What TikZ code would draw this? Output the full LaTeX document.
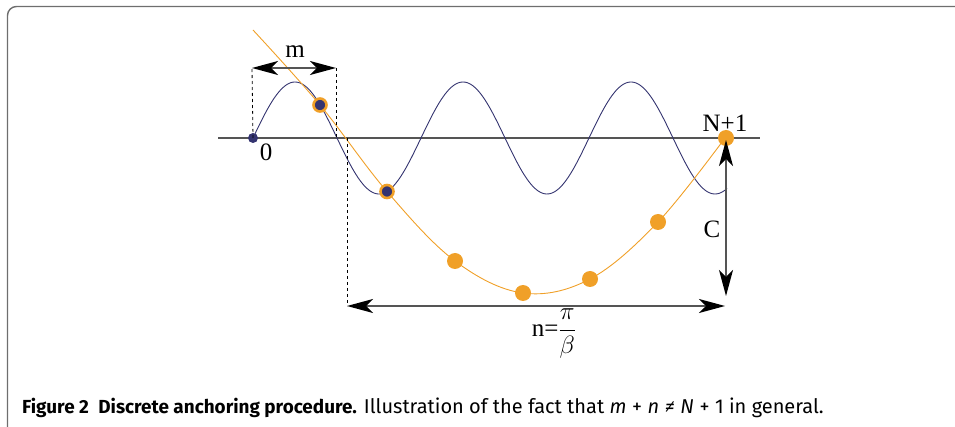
\RequirePackage{fix-cm}
\documentclass[tikz,border=0pt]{standalone}
\usepackage{amsmath}
\usepackage{fontspec}
\setmainfont{Liberation Serif}
\newfontfamily\capfont{Fira Sans}
\usetikzlibrary{arrows.meta}
\definecolor{wavecol}{RGB}{52,52,112}
\definecolor{orng}{RGB}{240,160,40}
\definecolor{axiscol}{RGB}{85,85,85}
\definecolor{framecol}{RGB}{110,110,110}

\tikzset{
  wave/.style={draw=wavecol, line width=0.9pt},
  fitcurve/.style={draw=orng, line width=0.9pt},
  odot/.style={circle, fill=orng, inner sep=0pt, minimum size=16pt},
  ringdot/.style={circle, fill=wavecol, draw=orng, line width=2.6pt, inner sep=0pt, minimum size=13pt},
  zerodot/.style={circle, fill=wavecol, inner sep=0pt, minimum size=10pt},
  dimarrow/.style={draw=axiscol, line width=1.4pt,
    {Stealth[length=26pt,width=14pt,inset=7pt,color=black]}-{Stealth[length=26pt,width=14pt,inset=7pt,color=black]}},
  guide/.style={dashed, line width=0.8pt},
  lbl/.style={inner sep=0pt, font=\fontsize{25}{25}\selectfont}
}
\newcommand{\mgap}{\hspace{0.28em}}

\begin{document}
\begin{tikzpicture}[x=1pt,y=-1pt]
  \useasboundingbox (0,0) rectangle (955,427);

  % frame
  \draw[framecol, line width=1.4pt, rounded corners=9pt] (7.5,427) -- (7.5,6.5) -- (955,6.5);

  % axis
  \coordinate (axl) at (218,138);
  \coordinate (axr) at (760,138);
  \draw[axiscol, line width=1.6pt] (axl) -- (axr);

  % oscillation
  \draw[wave] plot[domain=253:727, samples=240, smooth] (\x, {138-56*sin((\x-253)/168*360)});

  % fitted curve through the samples
  \draw[fitcurve] plot[smooth, tension=0.6] coordinates
    {(253,30) (320,105) (387,191.5) (455,261) (523,293) (590,279) (658,222) (725,138)};

  % helper points
  \coordinate (ml) at (252,68);
  \coordinate (mr) at (336,68);
  \coordinate (mx) at (336,138);
  \coordinate (nx) at (347,138);
  \coordinate (nl) at (347,306);
  \coordinate (nr) at (725,306);
  \coordinate (cb) at (726,296);

  % sample points
  \node[zerodot] (p0) at (253,138) {};
  \node[ringdot] (p1) at (320,105) {};
  \node[ringdot] (p2) at (387,191.5) {};
  \node[odot] (p3) at (455,261) {};
  \node[odot] (p4) at (523,293) {};
  \node[odot] (p5) at (590,279) {};
  \node[odot] (p6) at (658,222) {};
  \node[odot] (p7) at (726,138) {};

  % dashed guides
  \draw[guide] (p0.center) -- (ml);
  \draw[guide] (mr) -- (mx);
  \draw[guide] (nx) -- (nl);

  % dimensions
  \draw[dimarrow] (ml) -- (mr);
  \draw[dimarrow] (nl) -- (nr);
  \draw[dimarrow, shorten <=2pt] (p7.center) -- (cb);

  % labels
  \node[lbl] (lm) at (295,52) {m};
  \node[lbl] (l0) at (266,152) {0};
  \node[lbl] (lN) at (725,123) {N+1};
  \node[lbl] (lC) at (712,229) {C};
  \node[lbl] (ln) at (554,334) {n=$\dfrac{\pi}{\beta}$};

  % caption
  \node[anchor=base west, inner sep=0pt, font=\capfont\fontsize{20}{20}\selectfont] (cap) at (22,413)
    {{\fontsize{18.9}{20}\selectfont\bfseries Figure 2\enspace Discrete anchoring procedure.} Illustration of the fact that \textit{m}\mgap+\mgap\textit{n}\mgap\textit{≠}\mgap\textit{N}\mgap+\mgap1 in general.};
\end{tikzpicture}
\end{document}
